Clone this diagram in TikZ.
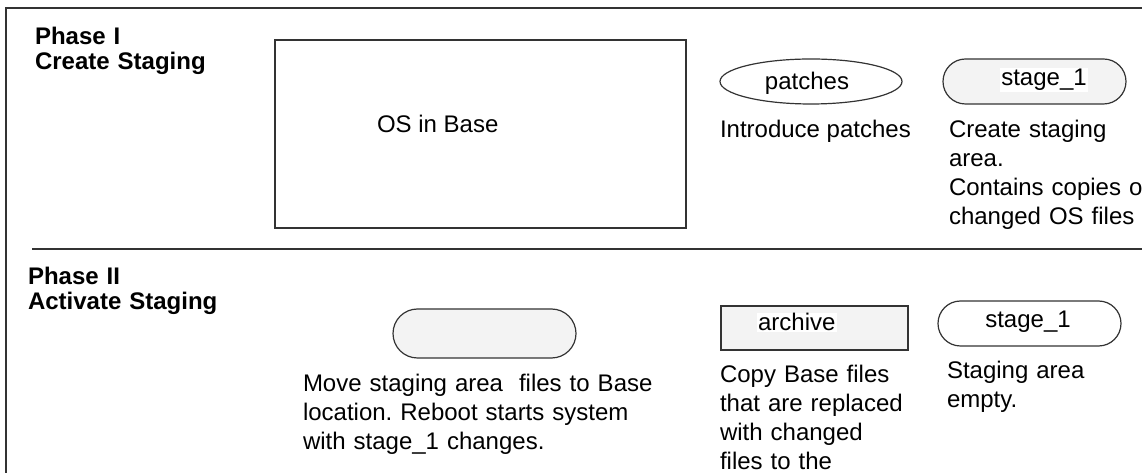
\documentclass[tikz,border=0pt]{standalone}
\usepackage{fontspec}
\setmainfont{Liberation Sans}
\usetikzlibrary{shapes.geometric,shapes.misc}
\definecolor{edge}{HTML}{333333}
\definecolor{shade}{HTML}{F3F3F3}
\tikzset{
  frameline/.style={draw=edge, line width=1.5pt},
  shapeline/.style={draw=edge, line width=0.9pt},
  txt/.style={inner sep=0pt, outer sep=0pt, font=\fontsize{18}{21.75}\selectfont\frenchspacing, text=black},
  para/.style={txt, anchor=base west, align=left},
  title/.style={inner sep=0pt, outer sep=0pt, font=\fontsize{18}{18.75}\selectfont\bfseries, anchor=base west, align=left, text width=250pt},
  pill/.style={rounded rectangle, shapeline, inner sep=0pt, outer sep=0pt, minimum width=137.25pt},
  oval/.style={ellipse, shapeline, inner sep=0pt, outer sep=0pt},
  boxshape/.style={rectangle, shapeline, inner sep=0pt, outer sep=0pt}
}
\frenchspacing
\begin{document}
\begin{tikzpicture}[x=0.75pt,y=-0.75pt]
\useasboundingbox (0,0) rectangle (1142,473);
\fill[white] (0,0) rectangle (1142,473);
\clip (0,0) rectangle (1142,473);
% outer frame and separator
\coordinate (ftl) at (6,8);
\coordinate (fbr) at (1160,490);
\draw[frameline] (ftl) rectangle (fbr);
\coordinate (sepL) at (32,249);
\coordinate (sepR) at (1160,249);
\draw[frameline] (sepL) -- (sepR);
% titles
\node[title] (t1) at (35,45) {Phase I\\Create Staging};
\node[title] (t2) at (28,285) {Phase II\\Activate Staging};
% Phase I
\node[boxshape, minimum width=308.25pt, minimum height=141pt] (os) at (480.5,134) {};
\node[txt, anchor=base west] (ostxt) at (377,133) {OS in Base};
\node[oval, minimum width=136.5pt, minimum height=33.75pt] (patch) at (811,81.5) {};
\node[txt, anchor=base] (patchtxt) at (807,90) {patches};
\node[pill, fill=shade, minimum height=33.75pt] (st1) at (1034.5,81.5) {};
\node[txt, anchor=base, fill=white, inner sep=0.8pt] (st1txt) at (1044,86) {stage\_1};
\node[para] (intro) at (720,138) {Introduce patches};
\node[para, text width=200pt] (create) at (949,138) {Create staging\\area.\\Contains copies of\\changed OS files};
% Phase II
\node[pill, fill=shade, minimum height=36.75pt] (move) at (484.5,333.5) {};
\node[para, text width=300pt] (movetxt) at (303,392) {Move staging area\ \ files to Base\\location. Reboot starts system\\with stage\_1 changes.};
\node[boxshape, fill=shade, minimum width=140.25pt, minimum height=33pt] (arch) at (814.5,328) {};
\node[txt, anchor=base west, fill=white, inner sep=0.8pt] (archtxt) at (757,331) {archive};
\node[para, text width=200pt] (copy) at (720,383) {Copy Base files\\that are replaced\\with changed\\files to the};
\node[pill, minimum height=33.75pt] (st2) at (1029.5,323.5) {};
\node[txt, anchor=base] (st2txt) at (1028,328) {stage\_1};
\node[para, text width=200pt] (empty) at (947,379) {Staging area\\empty.};
\end{tikzpicture}
\end{document}
